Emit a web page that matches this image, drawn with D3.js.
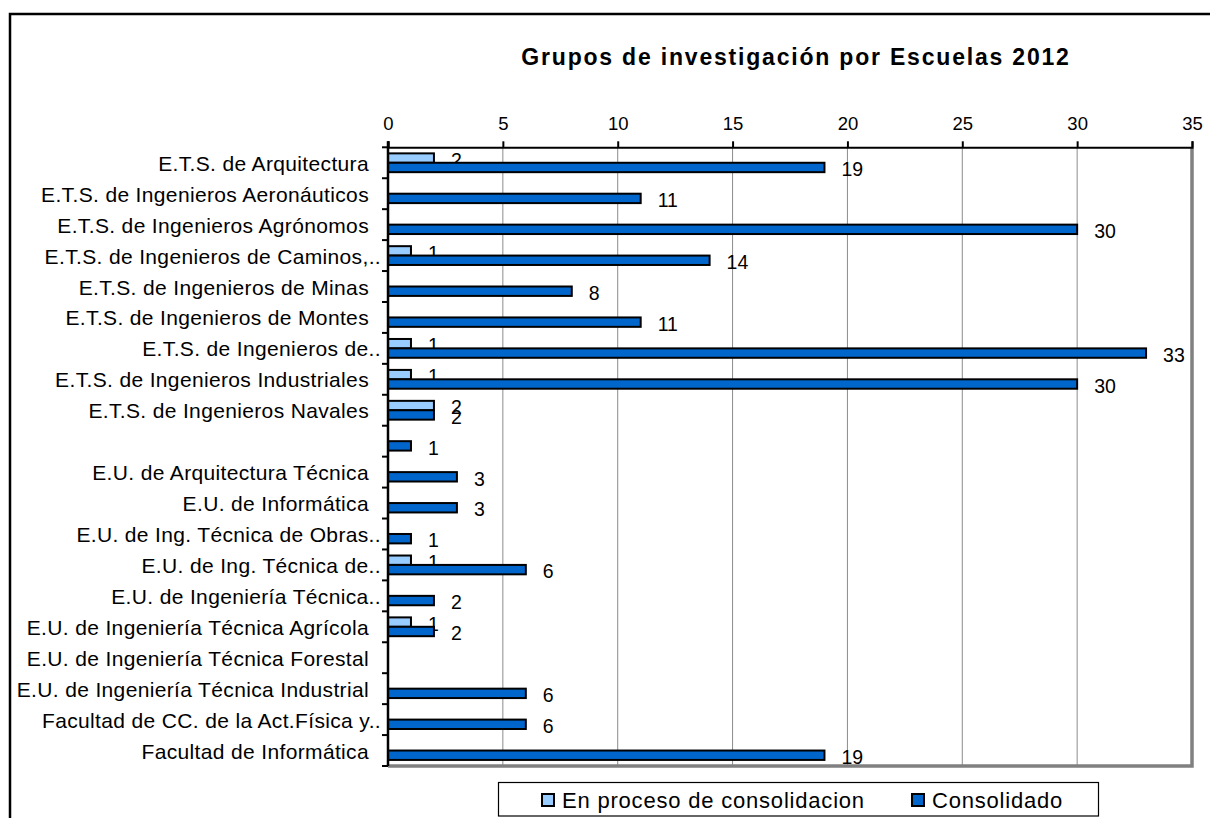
<!DOCTYPE html>
<html lang="es">
<head>
    <meta charset="UTF-8">
    <title>Grupos de investigación por Escuelas 2012</title>
    <script src="https://d3js.org/d3.v7.min.js"></script>
    <style>
        body, html {
            margin: 0;
            background-color: #ffffff;
            overflow: hidden;
        }
        svg {
            display: block;
            font-family: 'Liberation Sans', Arial, sans-serif;
        }
    </style>
</head>
<body>
<svg id="chart" width="1210" height="818"></svg>

<script>
    // datos
    const categories = [
        "E.T.S. de Arquitectura",
        "E.T.S. de Ingenieros Aeronáuticos",
        "E.T.S. de Ingenieros Agrónomos",
        "E.T.S. de Ingenieros de Caminos,..",
        "E.T.S. de Ingenieros de Minas",
        "E.T.S. de Ingenieros de Montes",
        "E.T.S. de Ingenieros de..",
        "E.T.S. de Ingenieros Industriales",
        "E.T.S. de Ingenieros Navales",
        "",
        "E.U. de Arquitectura Técnica",
        "E.U. de Informática",
        "E.U. de Ing. Técnica de Obras..",
        "E.U. de Ing. Técnica de..",
        "E.U. de Ingeniería Técnica..",
        "E.U. de Ingeniería Técnica Agrícola",
        "E.U. de Ingeniería Técnica Forestal",
        "E.U. de Ingeniería Técnica Industrial",
        "Facultad de CC. de la Act.Física y..",
        "Facultad de Informática"
    ];
    const enProceso   = [2, null, null, 1, null, null, 1, 1, 2, null, null, null, null, 1, null, 1, null, null, null, null];
    const consolidado = [19, 11, 30, 14, 8, 11, 33, 30, 2, 1, 3, 3, 1, 6, 2, 2, null, 6, 6, 19];
    const seriesNames = ["En proceso de consolidacion", "Consolidado"];
    const seriesColors = ["#99ccff", "#0066cc"];
    const xTicks = [0, 5, 10, 15, 20, 25, 30, 35];

    const svg = d3.select("#chart");

    const plotLeft = 388, plotRight = 1192, plotTop = 147.3, plotBottom = 766;

    const x = d3.scaleLinear().domain([0, 35]).range([plotLeft, plotRight]);
    const y = d3.scaleBand().domain(d3.range(categories.length)).range([plotTop, plotBottom]).padding(0);
    const sub = d3.scaleBand().domain([0, 1]).range([-9.4, 9.4]);

    // marco exterior
    svg.append("rect")
        .attr("x", 10).attr("y", 14)
        .attr("width", 1240).attr("height", 840)
        .attr("fill", "none")
        .attr("stroke", "#000")
        .attr("stroke-width", 2.5);

    // titulo
    svg.append("text")
        .attr("x", 796).attr("y", 65)
        .attr("text-anchor", "middle")
        .style("font-size", "23px")
        .style("font-weight", "bold")
        .style("letter-spacing", "1.8px")
        .text("Grupos de investigación por Escuelas 2012");

    // lineas de cuadricula
    svg.append("g")
        .selectAll("line")
        .data(xTicks.filter(t => t > 0 && t < 35))
        .join("line")
        .attr("x1", d => x(d)).attr("x2", d => x(d))
        .attr("y1", plotTop).attr("y2", plotBottom)
        .attr("stroke", "#8c8c8c")
        .attr("stroke-width", 1);

    // borde gris del area de trazado (derecha y abajo)
    svg.append("path")
        .attr("d", `M${plotRight},${plotTop} V${plotBottom} H${plotLeft}`)
        .attr("fill", "none")
        .attr("stroke", "#808080")
        .attr("stroke-width", 3.5);

    // barras
    const series = [enProceso, consolidado];
    series.forEach((vals, s) => {
        const rows = vals.map((v, i) => ({ i, v })).filter(d => d.v != null);
        svg.append("g")
            .selectAll("rect")
            .data(rows)
            .join("rect")
            .attr("x", x(0))
            .attr("y", d => y(d.i) + y.bandwidth() / 2 + sub(s))
            .attr("width", d => x(d.v) - x(0))
            .attr("height", sub.bandwidth())
            .attr("fill", seriesColors[s])
            .attr("stroke", "#000")
            .attr("stroke-width", 2);

        svg.append("g")
            .selectAll("text")
            .data(rows)
            .join("text")
            .attr("x", d => x(d.v) + 17)
            .attr("y", d => y(d.i) + y.bandwidth() / 2 + sub(s) + sub.bandwidth() / 2 + 8.7)
            .style("font-size", "19.5px")
            .text(d => d.v);
    });

    // eje superior
    const xAxis = svg.append("g")
        .attr("transform", `translate(0,${plotTop})`)
        .call(d3.axisTop(x).tickValues(xTicks).tickSize(6).tickPadding(11));
    xAxis.select(".domain").attr("stroke", "#000").attr("stroke-width", 2);
    xAxis.selectAll(".tick line").attr("stroke", "#000").attr("stroke-width", 2);
    xAxis.selectAll(".tick text")
        .attr("fill", "#000")
        .style("font-family", "'Liberation Sans', Arial, sans-serif")
        .style("font-size", "18.5px");

    // eje izquierdo
    svg.append("line")
        .attr("x1", plotLeft).attr("x2", plotLeft)
        .attr("y1", plotTop - 6).attr("y2", plotBottom)
        .attr("stroke", "#000")
        .attr("stroke-width", 2.5);

    const bounds = d3.range(categories.length).map(i => y(i)).concat([plotBottom]);
    svg.append("g")
        .selectAll("line")
        .data(bounds)
        .join("line")
        .attr("x1", plotLeft - 6).attr("x2", plotLeft)
        .attr("y1", d => d).attr("y2", d => d)
        .attr("stroke", "#000")
        .attr("stroke-width", 2);

    svg.append("g")
        .selectAll("text")
        .data(categories)
        .join("text")
        .attr("x", d => d.endsWith("..") ? plotLeft - 7 : plotLeft - 19)
        .attr("y", (d, i) => y(i) + y.bandwidth() / 2 + 8)
        .attr("text-anchor", "end")
        .style("font-size", "21px")
        .style("letter-spacing", "0.35px")
        .text(d => d);

    // leyenda
    const legend = svg.append("g");
    legend.append("rect")
        .attr("x", 498.5).attr("y", 782.5)
        .attr("width", 600).attr("height", 33.5)
        .attr("fill", "#fff")
        .attr("stroke", "#000")
        .attr("stroke-width", 1.2);

    const legendX = [542, 912];
    seriesNames.forEach((name, s) => {
        legend.append("rect")
            .attr("x", legendX[s]).attr("y", 794)
            .attr("width", 12).attr("height", 12)
            .attr("fill", seriesColors[s])
            .attr("stroke", "#000")
            .attr("stroke-width", 2);
        legend.append("text")
            .attr("x", legendX[s] + 20).attr("y", 807.5)
            .style("font-size", "22px")
            .style("letter-spacing", "0.8px")
            .text(name);
    });
</script>
</body>
</html>
